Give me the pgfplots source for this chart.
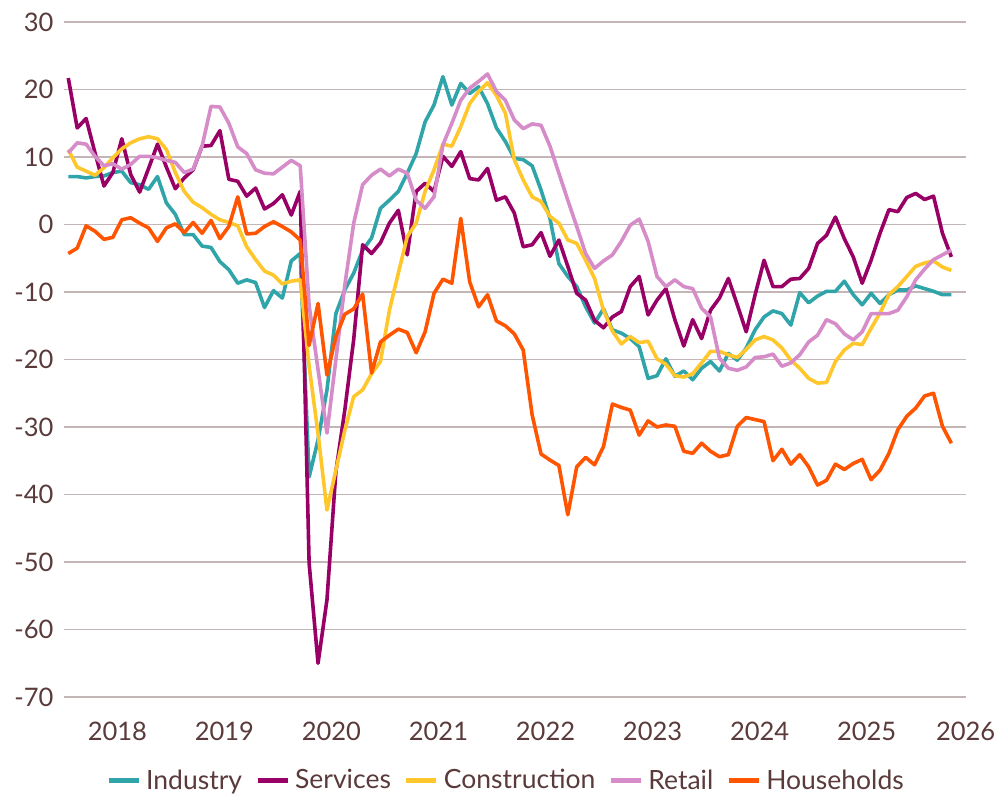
\documentclass[border=0pt]{standalone}
\usepackage{fontspec}
\setmainfont{Lato}
\usepackage{pgfplots}
\usepackage{pgfplotstable}
\pgfplotsset{compat=1.18}

\definecolor{textc}{HTML}{5A3A3A}
\definecolor{gridc}{HTML}{C4B6B6}
\definecolor{indc}{HTML}{2FA4A9}
\definecolor{serc}{HTML}{990066}
\definecolor{conc}{HTML}{FFC72C}
\definecolor{retc}{HTML}{D68CC8}
\definecolor{hhc}{HTML}{FF5500}

% monthly confidence indicators, i = month index
\pgfplotstableread{
i ind ser con ret hh
0 7.1 21.7 11.1 10.6 -4.3
1 7.1 14.3 8.5 12.1 -3.5
2 6.9 15.7 7.9 11.9 -0.2
3 7.1 10.6 7.3 10.1 -1.0
4 7.2 5.7 8.4 8.7 -2.2
5 7.7 7.7 9.9 9.0 -1.9
6 7.9 12.7 11.2 8.2 0.7
7 6.2 7.4 12.1 8.9 1.0
8 5.9 4.8 12.7 10.1 0.2
9 5.2 8.3 13.0 10.1 -0.5
10 7.1 11.9 12.7 9.9 -2.5
11 3.2 8.5 11.1 9.5 -0.5
12 1.5 5.3 7.7 9.2 0.1
13 -1.5 6.9 4.9 7.7 -1.2
14 -1.5 8.1 3.3 8.2 0.3
15 -3.2 11.6 2.5 11.6 -1.3
16 -3.4 11.7 1.5 17.5 0.6
17 -5.5 13.9 0.7 17.4 -2.1
18 -6.7 6.7 0.3 15.0 -0.3
19 -8.7 6.4 -0.2 11.5 4.1
20 -8.2 4.2 -3.3 10.5 -1.4
21 -8.6 5.4 -5.2 8.1 -1.3
22 -12.3 2.3 -6.9 7.6 -0.3
23 -9.8 3.1 -7.5 7.5 0.4
24 -10.9 4.4 -8.8 8.5 -0.3
25 -5.4 1.4 -8.4 9.5 -1.1
26 -4.3 4.9 -8.2 8.7 -2.3
27 -37.4 -50.2 -21.0 -12.0 -17.9
28 -31.9 -65.0 -31.0 -21.5 -11.7
29 -24.5 -55.6 -42.3 -30.9 -22.3
30 -13.2 -36.6 -36.4 -20.0 -16.6
31 -9.7 -27.5 -30.5 -9.0 -13.3
32 -7.2 -17.0 -25.5 0.2 -12.5
33 -3.8 -3.0 -24.5 5.9 -10.3
34 -2.0 -4.3 -22.1 7.3 -22.0
35 2.4 -2.7 -20.3 8.2 -17.4
36 3.6 0.2 -12.7 7.2 -16.4
37 4.9 2.1 -7.2 8.2 -15.5
38 7.6 -4.5 -1.8 7.6 -16.0
39 10.5 4.9 0.2 3.6 -19.0
40 15.2 6.1 4.9 2.4 -15.9
41 17.7 4.9 8.1 4.1 -10.2
42 21.9 10.1 11.9 11.8 -8.1
43 17.7 8.6 11.6 15.0 -8.7
44 20.9 10.8 14.5 18.4 0.9
45 19.4 6.8 17.9 20.2 -8.5
46 20.4 6.6 19.7 21.2 -12.2
47 17.9 8.3 21.0 22.3 -10.4
48 14.3 3.6 19.1 19.7 -14.3
49 12.3 4.1 16.5 18.4 -15.0
50 9.8 1.7 9.6 15.5 -16.2
51 9.6 -3.3 6.6 14.2 -18.6
52 8.7 -3.0 4.1 14.9 -28.2
53 5.1 -1.2 3.4 14.7 -34.0
54 0.9 -4.7 1.2 11.6 -34.9
55 -5.8 -2.3 0.2 7.6 -35.7
56 -7.7 -6.2 -2.3 3.6 -43.0
57 -9.2 -10.2 -2.8 -0.3 -35.9
58 -12.2 -11.2 -5.3 -4.3 -34.5
59 -14.6 -14.2 -8.0 -6.5 -35.6
60 -12.5 -15.3 -12.7 -5.4 -32.9
61 -15.6 -13.7 -15.8 -4.5 -26.6
62 -16.1 -12.9 -17.7 -2.5 -27.1
63 -16.9 -9.2 -16.6 -0.1 -27.5
64 -18.1 -7.7 -17.5 0.8 -31.2
65 -22.8 -13.4 -17.3 -2.5 -29.1
66 -22.4 -11.2 -19.9 -7.7 -30.0
67 -19.9 -9.5 -20.7 -9.2 -29.7
68 -22.5 -14.1 -22.4 -8.2 -29.9
69 -21.7 -18.0 -22.6 -9.2 -33.6
70 -23.0 -14.1 -22.1 -9.5 -33.9
71 -21.3 -16.9 -20.5 -12.4 -32.4
72 -20.3 -12.7 -18.8 -13.7 -33.6
73 -21.7 -10.9 -18.8 -19.8 -34.4
74 -19.1 -8.0 -19.3 -21.3 -34.1
75 -20.1 -11.9 -19.7 -21.6 -29.9
76 -18.3 -15.9 -18.5 -21.1 -28.6
77 -15.6 -10.4 -17.1 -19.7 -28.9
78 -13.7 -5.3 -16.6 -19.6 -29.2
79 -12.8 -9.2 -17.1 -19.2 -35.0
80 -13.2 -9.2 -18.3 -21.0 -33.3
81 -14.9 -8.1 -20.1 -20.5 -35.5
82 -10.1 -8.0 -21.3 -19.3 -34.1
83 -11.6 -6.5 -22.8 -17.4 -35.9
84 -10.6 -2.8 -23.5 -16.4 -38.6
85 -9.9 -1.6 -23.4 -14.1 -37.9
86 -9.9 1.1 -20.3 -14.7 -35.5
87 -8.4 -2.1 -18.6 -16.2 -36.3
88 -10.4 -4.8 -17.6 -17.1 -35.4
89 -11.9 -8.7 -17.8 -15.9 -34.8
90 -10.2 -5.3 -15.4 -13.2 -37.8
91 -11.7 -1.3 -13.1 -13.2 -36.4
92 -10.4 2.2 -10.4 -13.2 -33.9
93 -9.7 1.9 -9.2 -12.7 -30.4
94 -9.7 4.0 -7.7 -10.7 -28.4
95 -9.1 4.6 -6.2 -8.2 -27.2
96 -9.5 3.7 -5.7 -6.6 -25.4
97 -9.9 4.2 -5.4 -5.2 -25.0
98 -10.4 -1.3 -6.3 -4.5 -29.9
99 -10.4 -4.8 -6.8 -3.8 -32.4
}\datatable

\begin{document}
\begin{tikzpicture}
\useasboundingbox (-64pt,-96pt) rectangle (934pt,697pt);
\begin{axis}[
    at={(0pt,0pt)}, anchor=south west,
    scale only axis,
    width=902pt, height=675pt,
    xmin=-0.48, xmax=100.64,
    ymin=-70, ymax=30,
    ytick={-70,-60,...,30},
    xtick={5.5,17.5,29.5,41.5,53.5,65.5,77.5,89.5,100.6},
    xticklabels={2018,2019,2020,2021,2022,2023,2024,2025,2026},
    axis line style={draw=none},
    major tick length=0pt,
    ymajorgrids,
    grid style={gridc, line width=1.3pt},
    tick label style={font=\fontsize{25.5}{30}\selectfont, text=textc},
    xticklabel style={yshift=-21pt},
    yticklabel style={xshift=-7pt},
    /pgf/number format/assume math mode=true,
    legend columns=5,
    legend style={draw=none, fill=none, at={(0.49,-0.123)}, anchor=center,
        font=\fontsize{26.5}{30}\selectfont, text=textc,
        /tikz/every odd column/.append style={column sep=3pt},
        /tikz/every even column/.append style={column sep=11pt}},
    legend image code/.code={\draw[#1, line width=5pt] (0pt,0pt) -- (30pt,0pt);},
    every axis plot/.append style={line width=3.6pt, line join=round},
]
\addplot[indc] table[x=i, y=ind] {\datatable};
\addplot[serc] table[x=i, y=ser] {\datatable};
\addplot[conc] table[x=i, y=con] {\datatable};
\addplot[retc] table[x=i, y=ret] {\datatable};
\addplot[hhc] table[x=i, y=hh] {\datatable};
\legend{Industry, Services, Construction, Retail, Households}
\end{axis}
\end{tikzpicture}
\end{document}
